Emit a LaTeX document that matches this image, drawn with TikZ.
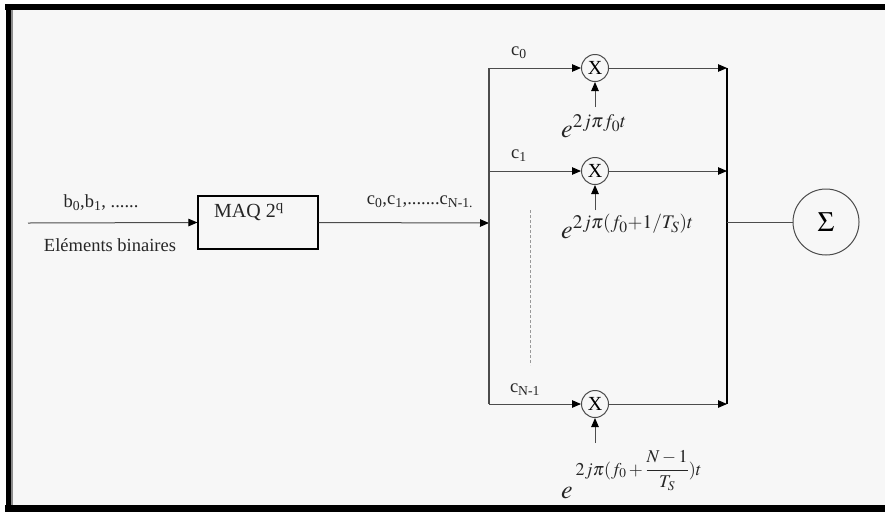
\documentclass[tikz,border=0pt]{standalone}
\usepackage{mathptmx}
\usepackage[no-math]{fontspec}
\setmainfont{Liberation Serif}
\usetikzlibrary{arrows.meta}
\begin{document}
\begin{tikzpicture}[x=1pt,y=-1pt,
  wire/.style={draw=black!70, line width=1pt},
  arr/.style={wire, -{Triangle[length=9pt,width=7.5pt,color=black]}},
  busl/.style={draw=black!70, line width=1.4pt},
  busr/.style={draw=black, line width=2.4pt},
  mult/.style={circle, draw=black!70, line width=1pt, minimum size=27pt, inner sep=0pt, font=\fontsize{20}{21}\selectfont},
  lbl/.style={inner sep=0pt, text=black!85, font=\fontsize{18.5}{20}\selectfont},
  expo/.style={inner sep=0pt, anchor=base west, text=black!85, font=\fontsize{26}{28}\selectfont}]
\useasboundingbox (0,0) rectangle (885,512);
% frame
\fill[white] (0,0) rectangle (885,512);
\fill[black!3] (8,8) rectangle (885,508);
\fill[black] (5,4) rectangle (885,10);
\fill[black] (6,4) rectangle (11,512);
\fill[black!45] (11,10) rectangle (13,505);
\fill[black] (5,505) rectangle (885,512);
% input and modulator
\node[draw=black, line width=1.2pt, minimum width=120pt, minimum height=53pt, inner sep=0pt] (maq) at (258,222.5) {};
\node[lbl, font=\fontsize{20}{21}\selectfont] (maqt) at (249,212) {MAQ 2\textsuperscript{q}};
\coordinate (in) at (28,223);
\draw[arr] (in) -- (maq.west);
\node[lbl] (bits) at (101,203) {b\textsubscript{0},b\textsubscript{1}, ......};
\node[lbl] (elem) at (110,245) {Eléments binaires};
\coordinate (busL) at (489,223);
\draw[arr] (maq.east) -- (busL);
\node[lbl] (cs) at (420,202) {c\textsubscript{0},c\textsubscript{1},.......c\textsubscript{N-1.}};
% left bus
\coordinate (bL0) at (489,68);
\coordinate (bL1) at (489,171);
\coordinate (bLN) at (489,404);
\draw[busl] (bL0) -- (bLN);
% multipliers
\node[mult] (m0) at (595,68) {X};
\node[mult] (m1) at (595,171) {X};
\node[mult] (mN) at (595,404) {X};
\draw[arr] (bL0) -- (m0);
\draw[arr] (bL1) -- (m1);
\draw[arr] (bLN) -- (mN);
\node[lbl] (c0) at (519,53) {c\textsubscript{0}};
\node[lbl] (c1) at (519,156) {c\textsubscript{1}};
\node[lbl] (cN) at (525,390) {c\textsubscript{N-1}};
% dashed
\coordinate (d1) at (530,210);
\coordinate (d2) at (530,365);
\draw[black!40, line width=0.8pt, dash pattern=on 3pt off 2pt] (d1) -- (d2);
% right bus
\coordinate (bR0) at (727,68);
\coordinate (bR1) at (727,171);
\coordinate (bRN) at (727,404);
\coordinate (bRc) at (727,222);
\draw[arr] (m0) -- (bR0);
\draw[arr] (m1) -- (bR1);
\draw[arr] (mN) -- (bRN);
\draw[busr] (bR0) -- (bRN);
% sum
\node[circle, draw=black!70, line width=1pt, minimum size=66pt, inner sep=0pt, font=\fontsize{28}{30}\selectfont] (sig) at (826,222) {$\Sigma$};
\draw[wire] (bRc) -- (sig);
% carriers
\coordinate (e0) at (595,107);
\coordinate (e1) at (595,210);
\coordinate (eN) at (595,443);
\draw[arr] (e0) -- (m0);
\draw[arr] (e1) -- (m1);
\draw[arr] (eN) -- (mN);
\node[expo] (x0) at (561,137) {$e^{2j\pi f_0t}$};
\node[expo] (x1) at (561,238) {$e^{2j\pi(f_0+1/T_S)t}$};
\node[expo] (xN) at (561,498) {$e\,\raisebox{23pt}{\fontsize{18}{20}\selectfont$2j\pi(f_0+{\displaystyle\frac{N-1}{T_S}})t$}$};
\end{tikzpicture}
\end{document}
